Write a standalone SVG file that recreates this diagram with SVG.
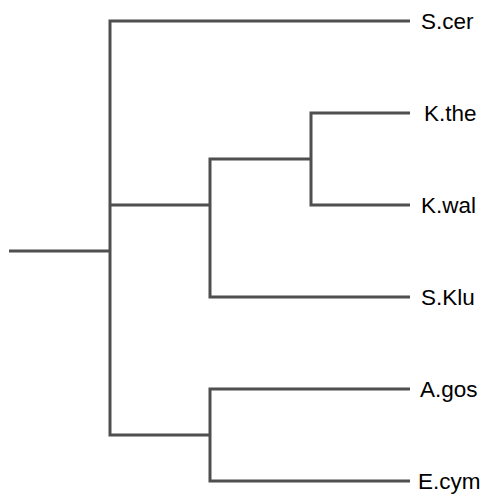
<svg xmlns="http://www.w3.org/2000/svg" width="500" height="500" viewBox="0 0 500 500">
<style>
.edge{stroke:#4f4f4f;stroke-width:3;fill:none;stroke-linecap:butt;stroke-linejoin:miter}
.lbl{font-family:"Liberation Sans",Arial,sans-serif;font-size:22.5px;fill:#000}
</style>
<rect width="500" height="500" fill="#fff"/>
<g id="connectors">
<path class="edge" d="M9,251 H110"/>
<path class="edge" d="M410,21 H110 V435 H210"/>
<path class="edge" d="M110,205 H210"/>
<path class="edge" d="M410,297 H210 V159 H311"/>
<path class="edge" d="M410,113 H311 V205 H410"/>
<path class="edge" d="M410,389 H210 V481 H410"/>
</g>
<g id="S.cer"><text class="lbl" x="421" y="29">S.cer</text></g>
<g id="K.the"><text class="lbl" x="424" y="121">K.the</text></g>
<g id="K.wal"><text class="lbl" x="421" y="213">K.wal</text></g>
<g id="S.Klu"><text class="lbl" x="421" y="305">S.Klu</text></g>
<g id="A.gos"><text class="lbl" x="420" y="397">A.gos</text></g>
<g id="E.cym"><text class="lbl" x="418" y="489">E.cym</text></g>
</svg>
